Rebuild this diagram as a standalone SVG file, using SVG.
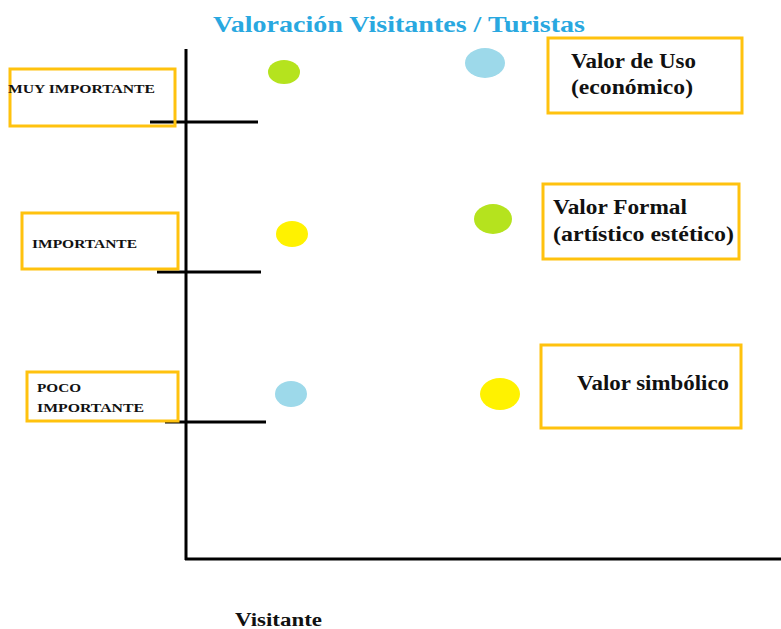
<svg xmlns="http://www.w3.org/2000/svg" width="781" height="629" viewBox="0 0 781 629">
<style>
.box{fill:none;stroke:#FFC20E;stroke-width:3}
.ax{stroke:#000;stroke-width:3;fill:none}
.lbl{font-family:"Liberation Serif",serif;font-weight:bold;fill:#111}
.s{font-size:13px}
.b{font-size:20px}
</style>
<rect width="781" height="629" fill="#fff"/>
<text x="213" y="32" textLength="372" lengthAdjust="spacingAndGlyphs" font-family="Liberation Serif, serif" font-weight="bold" font-size="24" fill="#29A8E0">Valoración Visitantes / Turistas</text>
<g id="connectors">
<line class="ax" x1="186" y1="49" x2="186" y2="560"/>
<line class="ax" x1="185" y1="559" x2="781" y2="559"/>
<line class="ax" x1="150" y1="122" x2="258" y2="122"/>
<line class="ax" x1="157" y1="272" x2="261" y2="272"/>
<line class="ax" x1="165" y1="422" x2="266" y2="422"/>
</g>
<g id="muy-importante"><rect class="box" x="10" y="69" width="165" height="57"/><text class="lbl s" x="8" y="93" textLength="147" lengthAdjust="spacingAndGlyphs">MUY IMPORTANTE</text></g>
<g id="importante"><rect class="box" x="22" y="213" width="156" height="56"/><text class="lbl s" x="32" y="248" textLength="105" lengthAdjust="spacingAndGlyphs">IMPORTANTE</text></g>
<g id="poco-importante"><rect class="box" x="27" y="372" width="151" height="49"/><text class="lbl s" x="37" y="392" textLength="44" lengthAdjust="spacingAndGlyphs">POCO</text><text class="lbl s" x="37" y="412" textLength="107" lengthAdjust="spacingAndGlyphs">IMPORTANTE</text></g>
<g id="valor-uso"><rect class="box" x="548" y="38" width="194" height="75"/><text class="lbl b" x="571" y="68" textLength="125" lengthAdjust="spacingAndGlyphs">Valor de Uso</text><text class="lbl b" x="571" y="94" textLength="122" lengthAdjust="spacingAndGlyphs">(económico)</text></g>
<g id="valor-formal"><rect class="box" x="543" y="184" width="196" height="75"/><text class="lbl b" x="553" y="214" textLength="134" lengthAdjust="spacingAndGlyphs">Valor Formal</text><text class="lbl b" x="553" y="241" textLength="181" lengthAdjust="spacingAndGlyphs">(artístico estético)</text></g>
<g id="valor-simbolico"><rect class="box" x="541" y="345" width="200" height="83"/><text class="lbl b" x="577" y="390" textLength="152" lengthAdjust="spacingAndGlyphs">Valor simbólico</text></g>
<g id="points">
<ellipse cx="284" cy="72" rx="16" ry="12" fill="#B5E31E"/>
<ellipse cx="485" cy="63" rx="20" ry="15" fill="#9DD9EA"/>
<ellipse cx="292" cy="234" rx="16" ry="13" fill="#FFF200"/>
<ellipse cx="493" cy="219" rx="19" ry="15" fill="#B5E31E"/>
<ellipse cx="291" cy="394" rx="16" ry="13" fill="#9DD9EA"/>
<ellipse cx="500" cy="394" rx="20" ry="16" fill="#FFF200"/>
</g>
<text class="lbl" x="235" y="626" font-size="18" textLength="87" lengthAdjust="spacingAndGlyphs">Visitante</text>
</svg>
